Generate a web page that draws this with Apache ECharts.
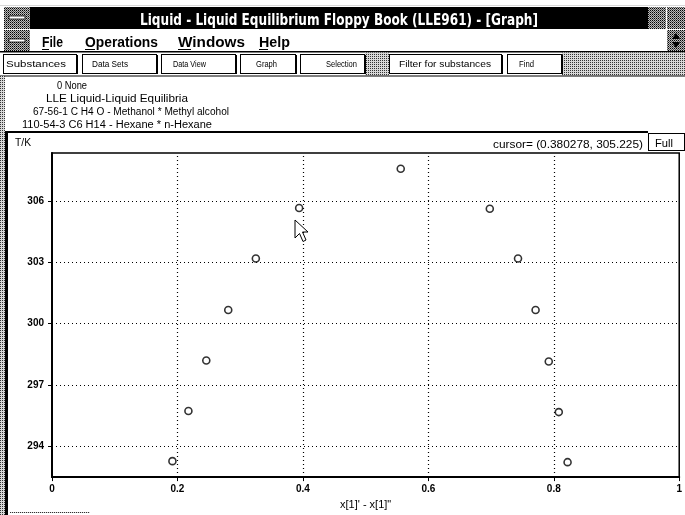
<!DOCTYPE html>
<html>
<head>
<meta charset="utf-8">
<script src="https://cdn.jsdelivr.net/npm/echarts@6/dist/echarts.min.js"></script>
<style>
html,body{margin:0;padding:0;background:#fff;}
#wrap{position:relative;width:685px;height:515px;overflow:hidden;background:#fff;}
#chart{position:absolute;left:0;top:0;width:685px;height:515px;}
#chrome{position:absolute;left:0;top:0;width:685px;height:515px;pointer-events:none;}
</style>
</head>
<body>
<div id="wrap">
<div id="chart"></div>
<svg id="chrome" width="685" height="515" xmlns="http://www.w3.org/2000/svg">
  <defs>
    <pattern id="dith" width="2" height="2" patternUnits="userSpaceOnUse">
      <rect width="2" height="2" fill="#d8d8d8"/>
      <rect width="1" height="1" fill="#333"/>
    </pattern>
    <pattern id="dith2" width="2" height="2" patternUnits="userSpaceOnUse">
      <rect width="2" height="2" fill="#bbb"/>
      <rect width="1" height="1" fill="#000"/>
      <rect x="1" y="1" width="1" height="1" fill="#555"/>
    </pattern>
  </defs>
  <!-- title bar -->
  <rect x="0" y="5" width="685" height="1" fill="url(#dith)"/>
  <rect x="4" y="7" width="26" height="22" fill="url(#dith2)"/>
  <rect x="9" y="16" width="16" height="3" fill="#fff" stroke="#000" stroke-width="0.8"/>
  <rect x="30" y="7" width="618" height="22" fill="#000"/>
  <rect x="648" y="7" width="18" height="22" fill="url(#dith2)"/>
  <rect x="667" y="7" width="18" height="22" fill="url(#dith2)"/>
  <text x="140" y="25" fill="#fff" font-family="DejaVu Sans Condensed, DejaVu Sans" font-weight="bold" font-size="15.5" textLength="398" lengthAdjust="spacingAndGlyphs">Liquid - Liquid Equilibrium Floppy Book (LLE961) - [Graph]</text>
  <!-- menu bar -->
  <rect x="4" y="30" width="26" height="21" fill="url(#dith2)"/>
  <rect x="9" y="39" width="16" height="3" fill="#fff" stroke="#000" stroke-width="0.8"/>
  <rect x="667" y="30" width="18" height="21" fill="url(#dith2)"/>
  <path d="M676 33 L672 39 L680 39 Z M676 48 L672 42 L680 42 Z" fill="#000"/>
  <g font-family="Liberation Sans, Arial" font-weight="bold" font-size="15" fill="#000">
    <text x="42" y="47" textLength="21" lengthAdjust="spacingAndGlyphs">File</text>
    <text x="85" y="47" textLength="73" lengthAdjust="spacingAndGlyphs">Operations</text>
    <text x="178" y="47" textLength="67" lengthAdjust="spacingAndGlyphs">Windows</text>
    <text x="259" y="47" textLength="31" lengthAdjust="spacingAndGlyphs">Help</text>
  </g>
  <g stroke="#000" stroke-width="1">
    <line x1="42" y1="49.5" x2="49" y2="49.5"/>
    <line x1="85" y1="49.5" x2="95" y2="49.5"/>
    <line x1="178" y1="49.5" x2="191" y2="49.5"/>
    <line x1="259" y1="49.5" x2="268" y2="49.5"/>
  </g>
  <rect x="0" y="51" width="685" height="1.5" fill="#000"/>
  <!-- toolbar -->
  <rect x="365" y="52.5" width="24" height="23" fill="url(#dith)"/>
  <rect x="562" y="52.5" width="123" height="23" fill="url(#dith)"/>
  <g fill="#fff" stroke="#000" stroke-width="1">
    <rect x="3.5" y="54.5" width="73" height="19"/>
    <rect x="82.5" y="54.5" width="74" height="19"/>
    <rect x="161.5" y="54.5" width="74" height="19"/>
    <rect x="240.5" y="54.5" width="55" height="19"/>
    <rect x="300.5" y="54.5" width="64" height="19"/>
    <rect x="389.5" y="54.5" width="112" height="19"/>
    <rect x="507.5" y="54.5" width="54" height="19"/>
  </g>
  <g fill="#000">
    <rect x="76" y="55" width="2" height="19"/>
    <rect x="156" y="55" width="2" height="19"/>
    <rect x="235" y="55" width="2" height="19"/>
    <rect x="295" y="55" width="2" height="19"/>
    <rect x="364" y="55" width="2" height="19"/>
    <rect x="501" y="55" width="2" height="19"/>
    <rect x="561" y="55" width="2" height="19"/>
  </g>
  <g font-family="Liberation Sans, Arial" font-size="9" fill="#000">
    <text x="6" y="67" textLength="60" lengthAdjust="spacingAndGlyphs">Substances</text>
    <text x="92" y="67" textLength="36" lengthAdjust="spacingAndGlyphs">Data Sets</text>
    <text x="173" y="67" textLength="33" lengthAdjust="spacingAndGlyphs">Data View</text>
    <text x="256" y="67" textLength="21" lengthAdjust="spacingAndGlyphs">Graph</text>
    <text x="326" y="67" textLength="31" lengthAdjust="spacingAndGlyphs">Selection</text>
    <text x="399" y="67" textLength="92" lengthAdjust="spacingAndGlyphs">Filter for substances</text>
    <text x="519" y="67" textLength="15" lengthAdjust="spacingAndGlyphs">Find</text>
  </g>
  <rect x="0" y="75.5" width="685" height="1" fill="#000"/>
  <!-- left frame -->
  <rect x="0" y="76" width="5" height="439" fill="url(#dith)"/>
  <!-- info text -->
  <g font-family="Liberation Sans, Arial" font-size="10" fill="#000">
    <text x="57" y="89" textLength="30" lengthAdjust="spacingAndGlyphs">0 None</text>
    <text x="46" y="102" textLength="142" lengthAdjust="spacingAndGlyphs">LLE Liquid-Liquid Equilibria</text>
    <text x="33" y="115" textLength="196" lengthAdjust="spacingAndGlyphs">67-56-1 C H4 O - Methanol * Methyl alcohol</text>
    <text x="22" y="128" textLength="190" lengthAdjust="spacingAndGlyphs">110-54-3 C6 H14 - Hexane * n-Hexane</text>
  </g>
  <!-- graph window frame -->
  <rect x="5" y="131" width="643" height="2" fill="#000"/>
  <rect x="5" y="131" width="3" height="384" fill="#000"/>
  <rect x="648.5" y="133.5" width="36" height="17" fill="#fff" stroke="#000" stroke-width="1"/>
  <text x="655" y="147" font-family="Liberation Sans, Arial" font-size="10" fill="#000" textLength="18" lengthAdjust="spacingAndGlyphs">Full</text>
  <text x="15" y="146" font-family="Liberation Sans, Arial" font-size="10" fill="#000" textLength="16" lengthAdjust="spacingAndGlyphs">T/K</text>
  <text x="493" y="148" font-family="Liberation Sans, Arial" font-size="11" fill="#000" textLength="150" lengthAdjust="spacingAndGlyphs">cursor= (0.380278, 305.225)</text>
  <rect x="10" y="512" width="80" height="1" fill="url(#dith)"/>
  <!-- mouse pointer -->
  <path d="M295 220 L295 238 L299.5 233.5 L303 241.5 L306 240 L302.5 232 L308 232 Z" fill="#fff" stroke="#000" stroke-width="1" stroke-linejoin="miter"/>
</svg>
</div>
<script>
// Data: mole fraction x[1] of the two liquid phases vs temperature T/K
const xPhaseA = [0.192, 0.2175, 0.246, 0.281, 0.325, 0.394, 0.556];
const tPhaseA = [293.28, 295.73, 298.20, 300.67, 303.19, 305.66, 307.58];
const xPhaseB = [0.698, 0.743, 0.771, 0.792, 0.808, 0.822];
const tPhaseB = [305.62, 303.19, 300.67, 298.15, 295.68, 293.23];
const xTicks = [0, 0.2, 0.4, 0.6, 0.8, 1];
const xGrid = [0.2, 0.4, 0.6, 0.8];
const yTicks = [294, 297, 300, 303, 306];

const points = [];
xPhaseA.forEach((x, i) => points.push([x, tPhaseA[i]]));
xPhaseB.forEach((x, i) => points.push([x, tPhaseB[i]]));

const gridLines = [];
yTicks.forEach(v => gridLines.push({ yAxis: v }));
xGrid.forEach(v => gridLines.push({ xAxis: v }));

const chart = echarts.init(document.getElementById('chart'), null, { renderer: 'canvas' });
const labelFont = { color: '#000', fontSize: 10, fontWeight: 'bold', fontFamily: 'Liberation Sans, Arial' };
chart.setOption({
  animation: false,
  backgroundColor: 'transparent',
  grid: { left: 52, top: 153, width: 630, height: 330, show: true, borderColor: '#000', borderWidth: 1.5, backgroundColor: 'transparent' },
  xAxis: {
    type: 'value', min: 0, max: 1, interval: 0.2,
    axisLine: { show: true, onZero: false, lineStyle: { color: '#000', width: 2 } },
    axisTick: { show: true, length: 4, lineStyle: { color: '#000', width: 1 } },
    axisLabel: Object.assign({ margin: 7, customValues: xTicks, formatter: v => String(v) }, labelFont),
    splitLine: { show: false },
    name: "x[1]' - x[1]\"", nameLocation: 'middle', nameGap: 21,
    nameTextStyle: { color: '#000', fontSize: 11, fontFamily: 'Liberation Sans, Arial' }
  },
  yAxis: {
    type: 'value', min: 292.5, max: 308.35, interval: 1.5,
    axisLine: { show: true, onZero: false, lineStyle: { color: '#000', width: 2 } },
    axisTick: { show: true, length: 4, customValues: yTicks, lineStyle: { color: '#000', width: 1 } },
    axisLabel: Object.assign({ margin: 8, customValues: yTicks, formatter: v => (Math.abs(v % 3) < 1e-6 ? String(v) : '') }, labelFont),
    splitLine: { show: false }
  },
  series: [{
    type: 'scatter',
    data: points,
    symbol: 'circle',
    symbolSize: 7,
    itemStyle: { color: '#fff', borderColor: '#000', borderWidth: 1.6 },
    z: 5,
    markLine: {
      silent: true, symbol: 'none', animation: false,
      label: { show: false },
      lineStyle: { type: [1, 3], color: '#000', width: 1.2 },
      emphasis: { disabled: true },
      data: gridLines
    }
  }]
});
</script>
</body>
</html>
